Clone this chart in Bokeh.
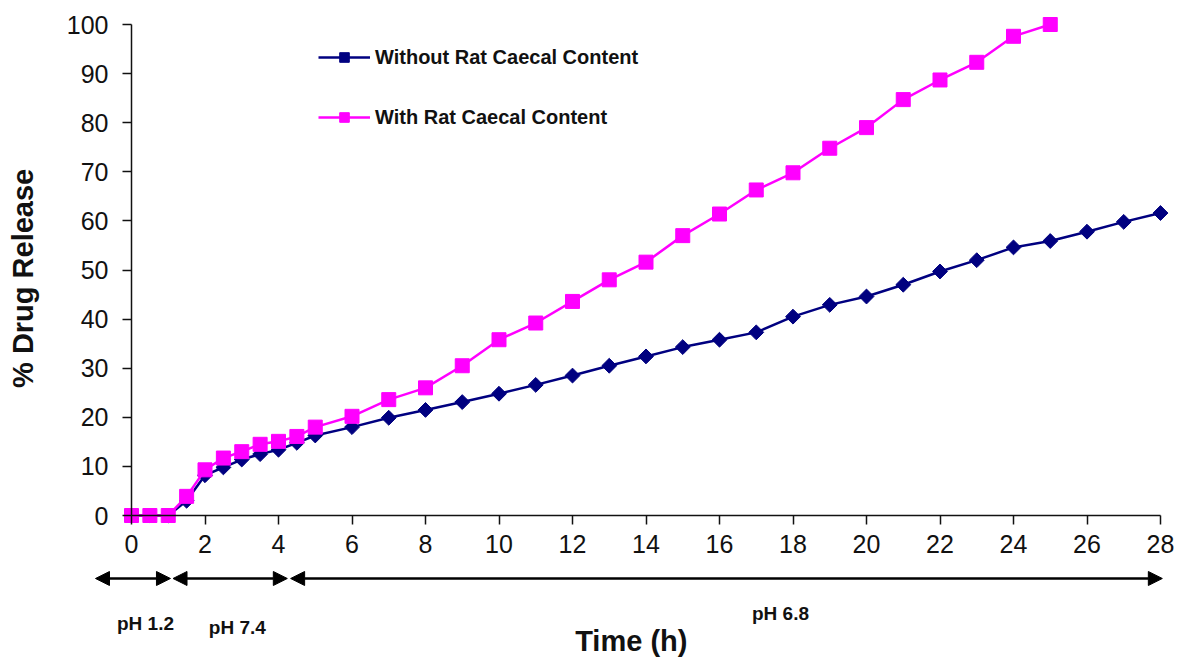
import numpy as np
from bokeh.plotting import figure
from bokeh.models import (LinearAxis, FixedTicker, Range1d, Label, Arrow,
                          NormalHead, Legend, LegendItem, ColumnDataSource)
from bokeh.embed import file_html
from bokeh.resources import INLINE

# ---------------- data ----------------
time_without = [0, 0.5, 1, 1.5, 2, 2.5, 3, 3.5, 4, 4.5,
                5, 6, 7, 8, 9, 10, 11, 12, 13, 14, 15, 16, 17, 18,
                19, 20, 21, 22, 23, 24, 25, 26, 27, 28]
release_without = [0, 0, 0, 3.0, 8.2, 9.8, 11.4, 12.5, 13.4, 14.8,
                   16.3, 18.0, 19.9, 21.5, 23.1, 24.8, 26.6, 28.5, 30.5, 32.4,
                   34.3, 35.8, 37.3, 40.5, 42.9, 44.6, 47.0, 49.7, 52.0, 54.6,
                   55.9, 57.8, 59.8, 61.6]

time_with = [0, 0.5, 1, 1.5, 2, 2.5, 3, 3.5, 4, 4.5,
             5, 6, 7, 8, 9, 10, 11, 12, 13, 14, 15, 16, 17, 18,
             19, 20, 21, 22, 23, 24, 25]
release_with = [0, 0, 0, 3.9, 9.3, 11.7, 13.0, 14.5, 15.1, 16.1,
                18.0, 20.2, 23.6, 26.0, 30.5, 35.8, 39.2, 43.6, 48.0, 51.6,
                57.0, 61.4, 66.3, 69.8, 74.8, 79.0, 84.7, 88.7, 92.3, 97.6,
                100.0]

x_ticks = [0, 2, 4, 6, 8, 10, 12, 14, 16, 18, 20, 22, 24, 26, 28]
y_ticks = [0, 10, 20, 30, 40, 50, 60, 70, 80, 90, 100]

series_names = ["Without Rat Caecal Content", "With Rat Caecal Content"]
ph_labels = ["pH 1.2", "pH 7.4", "pH 6.8"]

# ---------------- figure ----------------
FONT = "Liberation Sans"
W, H = 1180, 658
px_per_x = 36.75
px_per_y = 4.91
x0_px, y0_px = 131, 515          # canvas position of data origin
x_start = -x0_px / px_per_x
x_end = x_start + W / px_per_x
y_end = y0_px / px_per_y
y_start = y_end - H / px_per_y

p = figure(width=W, height=H, output_backend="svg", toolbar_location=None,
           x_range=Range1d(x_start, x_end), y_range=Range1d(y_start, y_end),
           x_axis_location=None, y_axis_location=None,
           min_border=0, min_border_left=0, min_border_right=0,
           min_border_top=0, min_border_bottom=0)
p.outline_line_color = None
p.xgrid.visible = False
p.ygrid.visible = False
p.background_fill_color = "white"
p.border_fill_color = "white"

xaxis = LinearAxis(fixed_location=0, bounds=(0, 28), ticker=FixedTicker(ticks=x_ticks))
yaxis = LinearAxis(fixed_location=0, bounds=(0, 100), ticker=FixedTicker(ticks=y_ticks))
for ax in (xaxis, yaxis):
    ax.axis_line_color = "#111111"
    ax.axis_line_width = 1.5
    ax.major_tick_line_color = "#111111"
    ax.major_tick_line_width = 1.5
    ax.major_tick_out = 9
    ax.major_tick_in = 0
    ax.minor_tick_line_color = None
    ax.major_label_text_font = FONT
    ax.major_label_text_font_size = "25px"
    ax.major_label_text_color = "#111111"
xaxis.major_label_standoff = 10
yaxis.major_label_standoff = 14
p.add_layout(xaxis, "below")
p.add_layout(yaxis, "left")

# ---------------- series ----------------
src_without = ColumnDataSource(dict(t=time_without, r=release_without))
src_with = ColumnDataSource(dict(t=time_with, r=release_with))

l1 = p.line("t", "r", source=src_without, line_color="#000080", line_width=2.5)
s1 = p.scatter("t", "r", source=src_without, marker="square", angle=np.pi / 4,
               size=10.5, fill_color="#000080", line_color="#000080")
l2 = p.line("t", "r", source=src_with, line_color="#FF00FF", line_width=2.5)
s2 = p.scatter("t", "r", source=src_with, marker="square", size=14,
               fill_color="#FF00FF", line_color="#FF00FF")

leg_h = 24 + 36 + 24
legend = Legend(items=[LegendItem(label=series_names[0], renderers=[l1, s1]),
                       LegendItem(label=series_names[1], renderers=[l2, s2])],
                location=(318, H - (45 + leg_h)), orientation="vertical",
                glyph_width=52, glyph_height=24, label_height=24,
                spacing=36, padding=0, margin=0, label_standoff=5,
                border_line_color=None, background_fill_alpha=0)
legend.label_text_font = FONT
legend.label_text_font_style = "bold"
legend.label_text_font_size = "20px"
legend.label_text_color = "#111111"
p.add_layout(legend)

# ---------------- pH arrows ----------------
arrow_y = -12.83
segments = [(-0.98, 1.06), (1.13, 4.24), (4.33, 28.05)]
for xs, xe in segments:
    p.add_layout(Arrow(x_start=xs, y_start=arrow_y, x_end=xe, y_end=arrow_y,
                       line_color="black", line_width=2.5,
                       start=NormalHead(size=14, fill_color="black", line_color="black"),
                       end=NormalHead(size=14, fill_color="black", line_color="black")))

ph_pos = [(0.38, -22.0), (2.88, -22.8), (17.66, -19.96)]
for txt, (lx, ly) in zip(ph_labels, ph_pos):
    p.add_layout(Label(x=lx, y=ly, text=txt, text_align="center",
                       text_baseline="middle", text_font=FONT,
                       text_font_style="bold", text_font_size="19px",
                       text_color="#111111"))

# ---------------- axis titles ----------------
p.add_layout(Label(x=13.6, y=-25.66, text="Time (h)", text_align="center",
                   text_baseline="middle", text_font=FONT, text_font_style="bold",
                   text_font_size="29px", text_color="#111111"))
p.add_layout(Label(x=-2.94, y=48.3, text="% Drug Release", angle=np.pi / 2,
                   text_align="center", text_baseline="middle", text_font=FONT,
                   text_font_style="bold", text_font_size="29px",
                   text_color="#111111"))

open("out.html", "w").write(file_html(p, INLINE))
